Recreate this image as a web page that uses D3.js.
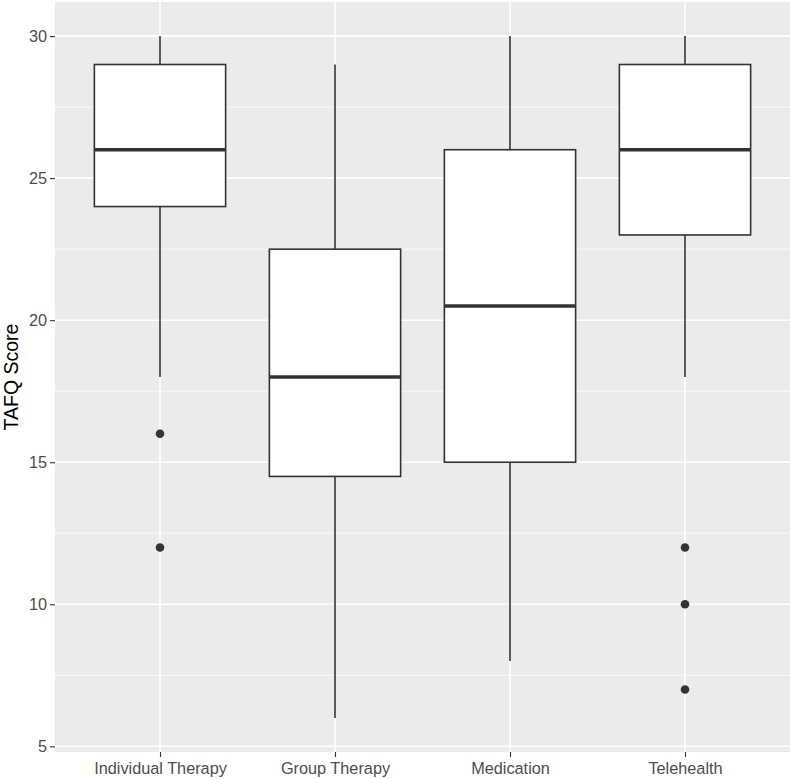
<!DOCTYPE html>
<html>
<head>
<meta charset="utf-8">
<script src="https://cdn.jsdelivr.net/npm/d3@7"></script>
<style>
  body { margin: 0; background: #fff; }
  text { font-family: "Liberation Sans", Arial, sans-serif; }
</style>
</head>
<body>
<svg id="chart" width="790" height="779"></svg>
<script>
// data
let groups = ['Individual Therapy', 'Group Therapy', 'Medication', 'Telehealth']
let whiskerLow = [18, 6, 8, 18]
let q1 = [24, 14.5, 15, 23]
let median = [26, 18, 20.5, 26]
let q3 = [29, 22.5, 26, 29]
let whiskerHigh = [30, 29, 30, 30]
let outliers = [[16, 12], [], [], [12, 10, 7]]
let yTicks = [5, 10, 15, 20, 25, 30]
let yMinor = [7.5, 12.5, 17.5, 22.5, 27.5]

let svg = d3.select('#chart')
let pLeft = 55, pRight = 790, pTop = 2, pBottom = 752

let y = d3.scaleLinear().domain([4.8, 31.2]).range([pBottom, pTop])
let x = d3.scalePoint().domain(groups).range([pLeft, pRight]).padding(0.6)
let bw = x.step() * 0.75

// panel
svg.append('rect')
    .attr('x', pLeft).attr('y', pTop)
    .attr('width', pRight - pLeft).attr('height', pBottom - pTop)
    .attr('fill', '#EBEBEB')

svg.selectAll('.minor')
    .data(yMinor)
    .join('line')
    .attr('x1', pLeft).attr('x2', pRight)
    .attr('y1', d => y(d)).attr('y2', d => y(d))
    .attr('stroke', '#fff').attr('stroke-width', 0.8)

svg.selectAll('.major')
    .data(yTicks)
    .join('line')
    .attr('x1', pLeft).attr('x2', pRight)
    .attr('y1', d => y(d)).attr('y2', d => y(d))
    .attr('stroke', '#fff').attr('stroke-width', 1.6)

svg.selectAll('.vgrid')
    .data(groups)
    .join('line')
    .attr('x1', d => x(d)).attr('x2', d => x(d))
    .attr('y1', pTop).attr('y2', pBottom)
    .attr('stroke', '#fff').attr('stroke-width', 1.6)

// axes
let yAxis = svg.append('g')
    .attr('transform', `translate(${pLeft},0)`)
    .call(d3.axisLeft(y).tickValues(yTicks).tickSize(5).tickPadding(3))
yAxis.select('.domain').remove()
yAxis.selectAll('line').attr('stroke', '#333').attr('stroke-width', 1.1)
yAxis.selectAll('text').attr('fill', '#4D4D4D').attr('font-size', 16.3)
    .style('font-family', '"Liberation Sans", Arial, sans-serif')

let xAxis = svg.append('g')
    .attr('transform', `translate(0,${pBottom})`)
    .call(d3.axisBottom(x).tickSize(5).tickPadding(5))
xAxis.select('.domain').remove()
xAxis.selectAll('line').attr('stroke', '#333').attr('stroke-width', 1.1)
xAxis.selectAll('text').attr('fill', '#4D4D4D').attr('font-size', 16.3)
    .style('font-family', '"Liberation Sans", Arial, sans-serif')

svg.append('text')
    .text('TAFQ Score')
    .attr('transform', `translate(18,${(pTop + pBottom) / 2})rotate(-90)`)
    .attr('text-anchor', 'middle')
    .attr('font-size', 19.5)
    .attr('fill', '#000')

// boxes
let g = svg.selectAll('.box')
    .data(groups)
    .join('g')

g.append('line')
    .attr('x1', d => x(d)).attr('x2', d => x(d))
    .attr('y1', (d, i) => y(whiskerHigh[i])).attr('y2', (d, i) => y(q3[i]))
    .attr('stroke', '#333').attr('stroke-width', 1.6)
g.append('line')
    .attr('x1', d => x(d)).attr('x2', d => x(d))
    .attr('y1', (d, i) => y(q1[i])).attr('y2', (d, i) => y(whiskerLow[i]))
    .attr('stroke', '#333').attr('stroke-width', 1.6)
g.append('rect')
    .attr('x', d => x(d) - bw / 2)
    .attr('y', (d, i) => y(q3[i]))
    .attr('width', bw)
    .attr('height', (d, i) => y(q1[i]) - y(q3[i]))
    .attr('fill', '#fff').attr('stroke', '#333').attr('stroke-width', 1.6)
g.append('line')
    .attr('x1', d => x(d) - bw / 2).attr('x2', d => x(d) + bw / 2)
    .attr('y1', (d, i) => y(median[i])).attr('y2', (d, i) => y(median[i]))
    .attr('stroke', '#333').attr('stroke-width', 3.4)

g.each(function (d, i) {
    d3.select(this).selectAll('circle')
        .data(outliers[i])
        .join('circle')
        .attr('cx', x(d))
        .attr('cy', v => y(v))
        .attr('r', 4.3)
        .attr('fill', '#333')
})
</script>
</body>
</html>
